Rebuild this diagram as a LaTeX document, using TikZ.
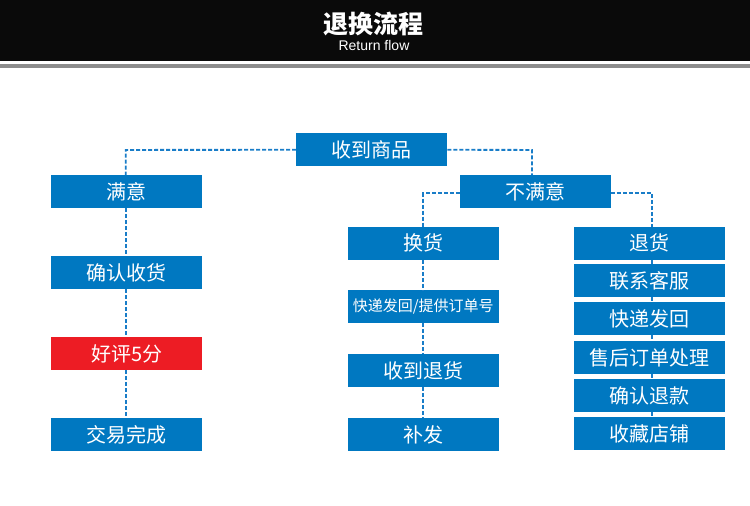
\documentclass[tikz,border=0pt]{standalone}
\usepackage{fontspec}
\setmainfont{Liberation Sans}
\newfontfamily\cjk{Noto Sans CJK SC}
\definecolor{boxblue}{RGB}{0,120,193}
\definecolor{linkblue}{RGB}{25,125,200}
\definecolor{boxred}{RGB}{237,28,36}
\definecolor{headblack}{RGB}{10,10,10}
\definecolor{headgray}{RGB}{140,140,140}
\begin{document}
\begin{tikzpicture}[x=1pt,y=-1pt,
  fbox/.style={fill=boxblue,text=white,inner sep=0pt,anchor=north west,
    minimum width=151pt,minimum height=33pt,font=\cjk\fontsize{20}{20}\selectfont},
  redbox/.style={fbox,fill=boxred},
  link/.style={draw=linkblue,line width=1.9pt,dash pattern=on 4pt off 2pt}]
\useasboundingbox (0,0) rectangle (750,506);
\fill[white] (0,0) rectangle (750,506);
\fill[headblack] (0,0) rectangle (750,61);
\fill[headgray] (0,64) rectangle (750,67.5);
\node[text=white,font=\cjk\bfseries\fontsize{25}{25}\selectfont] (title) at (373,24.5) {退换流程};
\node[text=white,font=\fontsize{14}{14}\selectfont] (sub) at (374,45) {Return flow};

% bend points of the connectors
\coordinate (c1) at (125.7,150);
\coordinate (c2) at (532,150);
\coordinate (c3) at (423,193);
\coordinate (c4) at (652,193);
\coordinate (lt) at (125.7,208);
\coordinate (mt) at (423,259);
\coordinate (rt) at (652,259);

% boxes
\node[fbox] (shou) at (296,133) {收到商品};
\node[fbox] (manyi) at (51,175) {满意};
\node[fbox] (buman) at (459.5,175) {不满意};
\node[fbox] (huan) at (347.5,226.5) {换货};
\node[fbox] (tui) at (573.5,226.5) {退货};
\node[fbox] (queren) at (51,256) {确认收货};
\node[redbox] (haoping) at (51,337) {好评5分};
\node[fbox] (jiaoyi) at (51,418) {交易完成};
\node[fbox,font=\cjk\fontsize{15}{15}\selectfont] (kuaidi) at (347.5,290) {快递发回/提供订单号};
\node[fbox] (shoudao) at (347.5,354) {收到退货};
\node[fbox] (bufa) at (347.5,418) {补发};
\node[fbox] (lianxi) at (573.5,264) {联系客服};
\node[fbox] (kuaidi2) at (573.5,302) {快递发回};
\node[fbox] (shouhou) at (573.5,341) {售后订单处理};
\node[fbox] (querentui) at (573.5,379) {确认退款};
\node[fbox] (shoucang) at (573.5,417) {收藏店铺};

\draw[link] (shou.west) -- (c1) -- (manyi.north -| c1);
\draw[link] (shou.east) -- (c2) -- (buman.north -| c2);
\draw[link] (buman.west |- c3) -- (c3) -- (huan.north -| c3);
\draw[link] (buman.east |- c4) -- (c4) -- (tui.north -| c4);
\draw[link] (manyi.south -| lt) -- (queren.north -| lt);
\draw[link] (queren.south -| lt) -- (haoping.north -| lt);
\draw[link] (haoping.south -| lt) -- (jiaoyi.north -| lt);
\draw[link] (huan.south -| mt) -- (kuaidi.north -| mt);
\draw[link] (kuaidi.south -| mt) -- (shoudao.north -| mt);
\draw[link] (shoudao.south -| mt) -- (bufa.north -| mt);
\draw[link] (tui.south -| rt) -- (lianxi.north -| rt);
\draw[link] (lianxi.south -| rt) -- (kuaidi2.north -| rt);
\draw[link] (kuaidi2.south -| rt) -- (shouhou.north -| rt);
\draw[link] (shouhou.south -| rt) -- (querentui.north -| rt);
\draw[link] (querentui.south -| rt) -- (shoucang.north -| rt);
\end{tikzpicture}
\end{document}
